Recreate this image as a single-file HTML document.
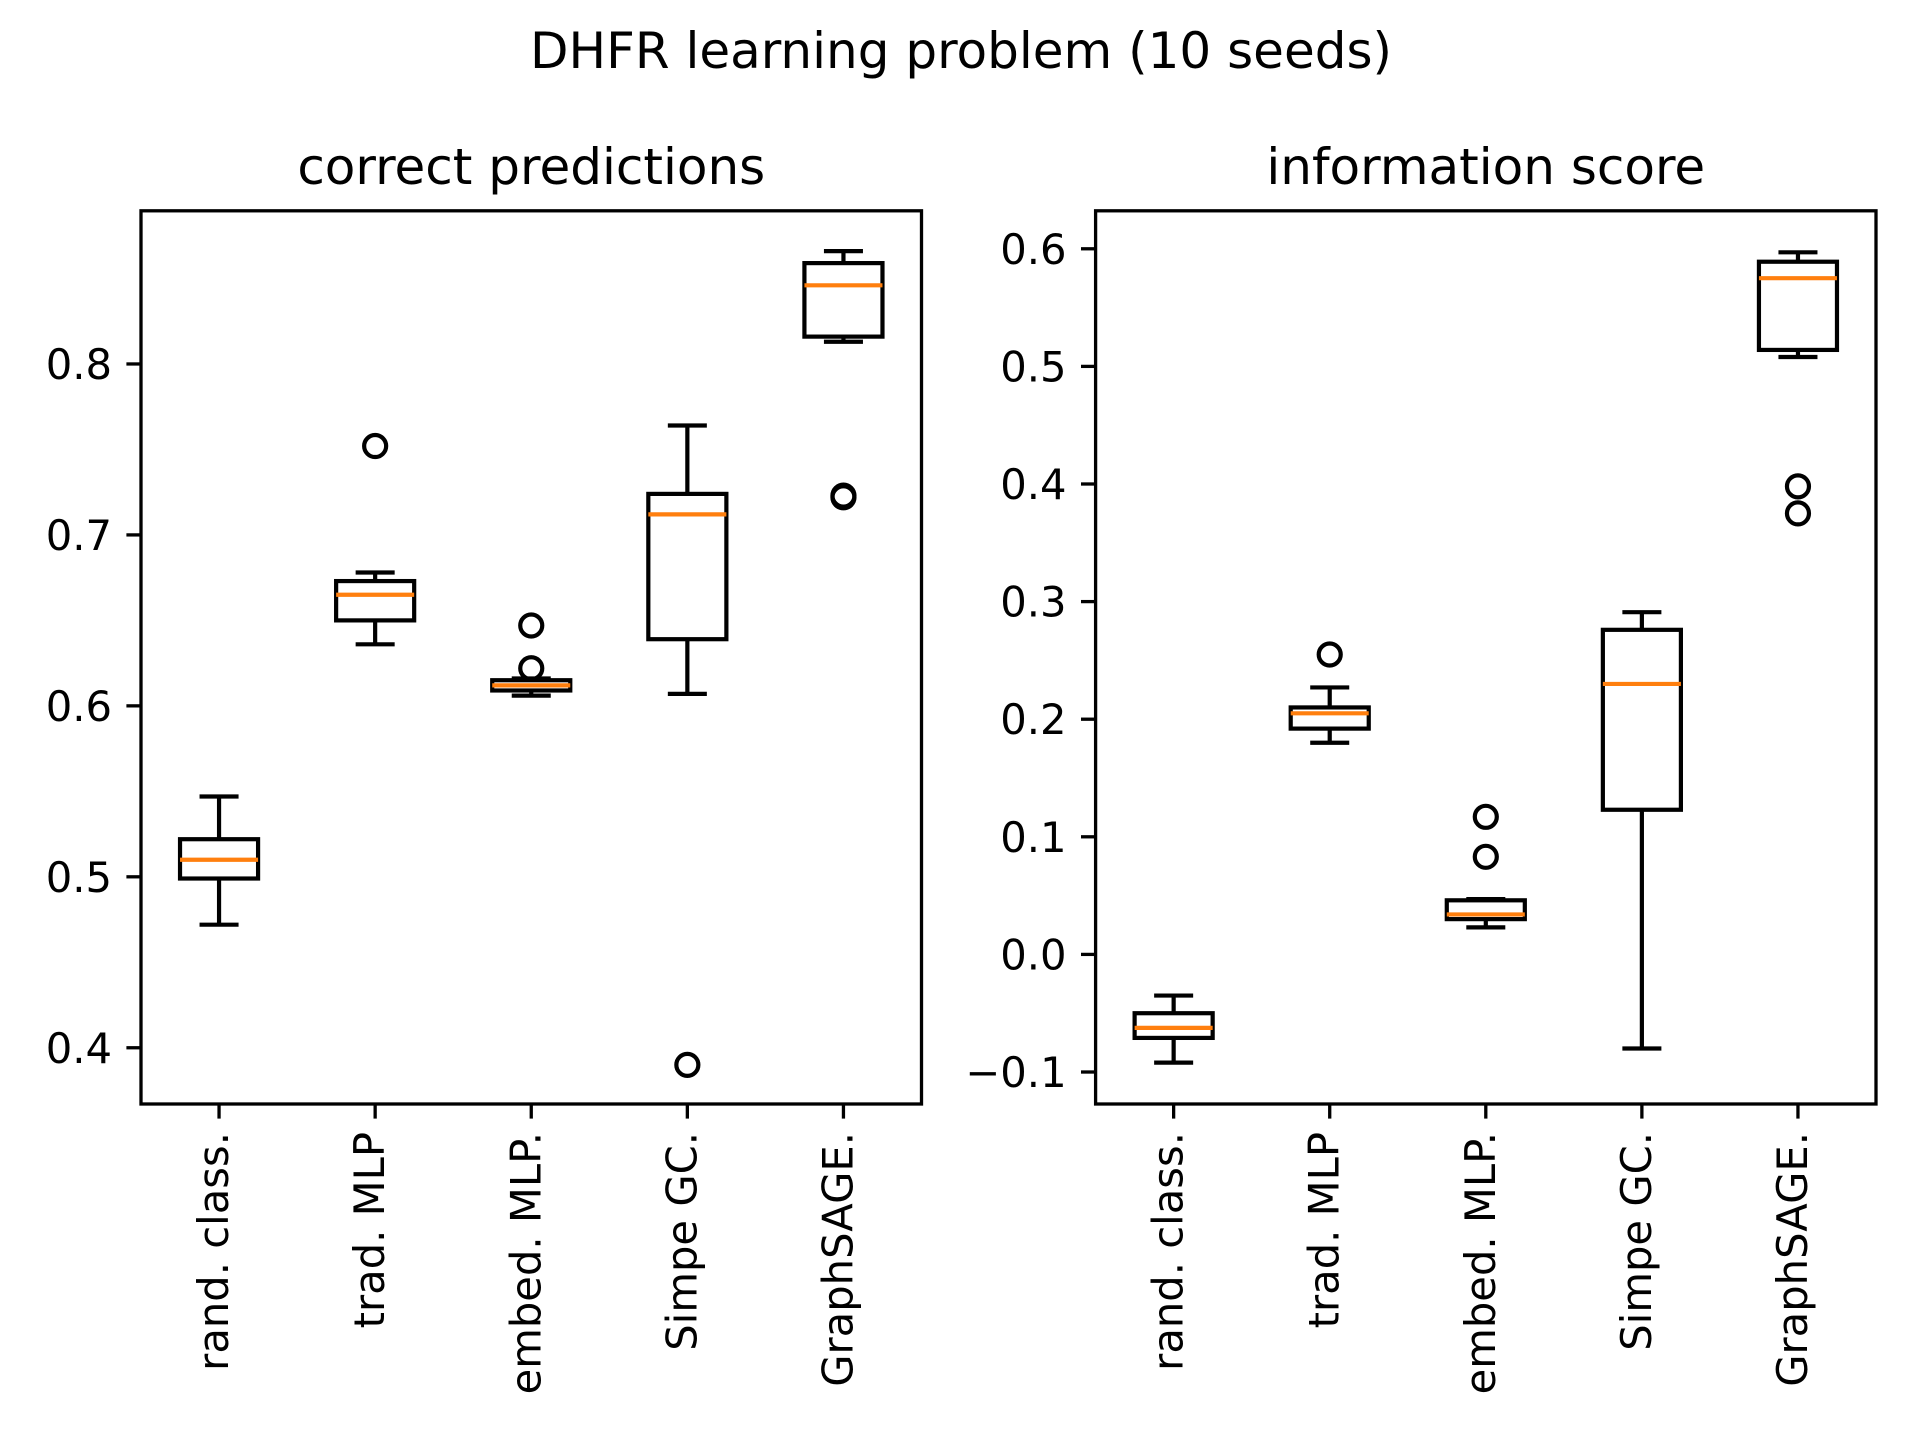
<!DOCTYPE html>
<html><head><meta charset="utf-8"><style>
html,body{margin:0;padding:0;background:#fff}
svg{display:block;font-family:"DejaVu Sans","Liberation Sans",sans-serif}
</style></head><body>
<svg id="fig" width="1920" height="1440" viewBox="0 0 1920 1440">
<text x="961" y="68" font-size="50" text-anchor="middle">DHFR learning problem (10 seeds)</text>
</svg>
<script>
const categories = ["rand. class.","trad. MLP","embed. MLP.","Simpe GC.","GraphSAGE."];
// left panel: [lowWhisker, q1, median, q3, highWhisker]
const correctStats = [
  [0.472,0.499,0.510,0.522,0.547],
  [0.636,0.650,0.665,0.673,0.678],
  [0.606,0.609,0.612,0.615,0.616],
  [0.607,0.639,0.712,0.724,0.764],
  [0.813,0.816,0.846,0.859,0.866]
];
const correctOutliers = [[],[0.752],[0.647,0.622],[0.390],[0.723,0.722]];
const correctTicks = [0.4,0.5,0.6,0.7,0.8];
const infoStats = [
  [-0.092,-0.071,-0.0625,-0.050,-0.035],
  [0.180,0.192,0.205,0.210,0.227],
  [0.023,0.030,0.034,0.046,0.047],
  [-0.080,0.123,0.230,0.276,0.291],
  [0.508,0.514,0.575,0.589,0.597]
];
const infoOutliers = [[],[0.255],[0.117,0.083],[],[0.398,0.375]];
const infoTicks = [-0.1,0.0,0.1,0.2,0.3,0.4,0.5,0.6];
const infoTickLabels = ["\u22120.1","0.0","0.1","0.2","0.3","0.4","0.5","0.6"];

const svg = document.getElementById('fig');
const NS = "http://www.w3.org/2000/svg";
function mk(tag, attrs, parent){
  const e = document.createElementNS(NS, tag);
  for (const k in attrs) e.setAttribute(k, attrs[k]);
  (parent||svg).appendChild(e);
  return e;
}
function panel(name, x0, x1, y0, y1, vmin, vmax, stats, outs, ticks, tickLabels, title){
  const g = mk('g', {});
  
  
  const xs = i => x0 + (x1-x0) * ((i+1) - 0.5) / 5;
  const ys = v => y1 - (v - vmin) / (vmax - vmin) * (y1 - y0);
  const t = mk('text', {x:(x0+x1)/2, y:184, 'font-size':50, 'text-anchor':'middle'}, g);
  t.textContent = title;
  
  
  ticks.forEach((v, i) => {
    const y = ys(v);
    const tk = mk('line', {x1:x0-14.6, x2:x0, y1:y, y2:y, stroke:'#000', 'stroke-width':3.3}, g);
    
    
    const lb = mk('text', {x:x0-29, y:y+15, 'font-size':41.7, 'text-anchor':'end'}, g);
    lb.textContent = tickLabels ? tickLabels[i] : v.toFixed(1);
    
    
  });
  const hw = (x1-x0)/5*0.25, cw = hw/2;
  stats.forEach((s, i) => {
    const cx = xs(i);
    const bg = mk('g', {stroke:'#000', 'stroke-width':4.2, fill:'none'}, g);
    
    
    mk('line', {x1:cx, x2:cx, y1:ys(s[0]), y2:ys(s[1])}, bg);
    mk('line', {x1:cx, x2:cx, y1:ys(s[3]), y2:ys(s[4])}, bg);
    mk('line', {x1:cx-cw, x2:cx+cw, y1:ys(s[0]), y2:ys(s[0])}, bg);
    mk('line', {x1:cx-cw, x2:cx+cw, y1:ys(s[4]), y2:ys(s[4])}, bg);
    mk('rect', {x:cx-hw, y:ys(s[3]), width:2*hw, height:ys(s[1])-ys(s[3])}, bg);
    const m = mk('line', {x1:cx-hw, x2:cx+hw, y1:ys(s[2]), y2:ys(s[2]), stroke:'#ff7f0e'}, bg);
    
    
    outs[i].forEach(o => {
      const c = mk('circle', {cx:cx, cy:ys(o), r:11, stroke:'#000', 'stroke-width':4.2, fill:'none'}, g);
      
      
    });
    const tk = mk('line', {x1:cx, x2:cx, y1:y1, y2:y1+14.6, stroke:'#000', 'stroke-width':3.3}, g);
    
    
    const lb = mk('text', {x:0, y:0, 'font-size':41.7, 'text-anchor':'end',
      transform:'translate(' + (cx+9) + ',' + (y1+28) + ') rotate(-90)'}, g);
    lb.textContent = categories[i];
    
    
  });
  const fr = mk('rect', {x:x0, y:y0, width:x1-x0, height:y1-y0, fill:'none', stroke:'#000', 'stroke-width':3.3}, g);
  
  
}
panel('correct-predictions', 141, 921.5, 210.8, 1104, 0.3671, 0.8896, correctStats, correctOutliers, correctTicks, null, 'correct predictions');
panel('information-score', 1095.6, 1876, 210.8, 1104, -0.1272, 0.6323, infoStats, infoOutliers, infoTicks, infoTickLabels, 'information score');
</script>
</body></html>
